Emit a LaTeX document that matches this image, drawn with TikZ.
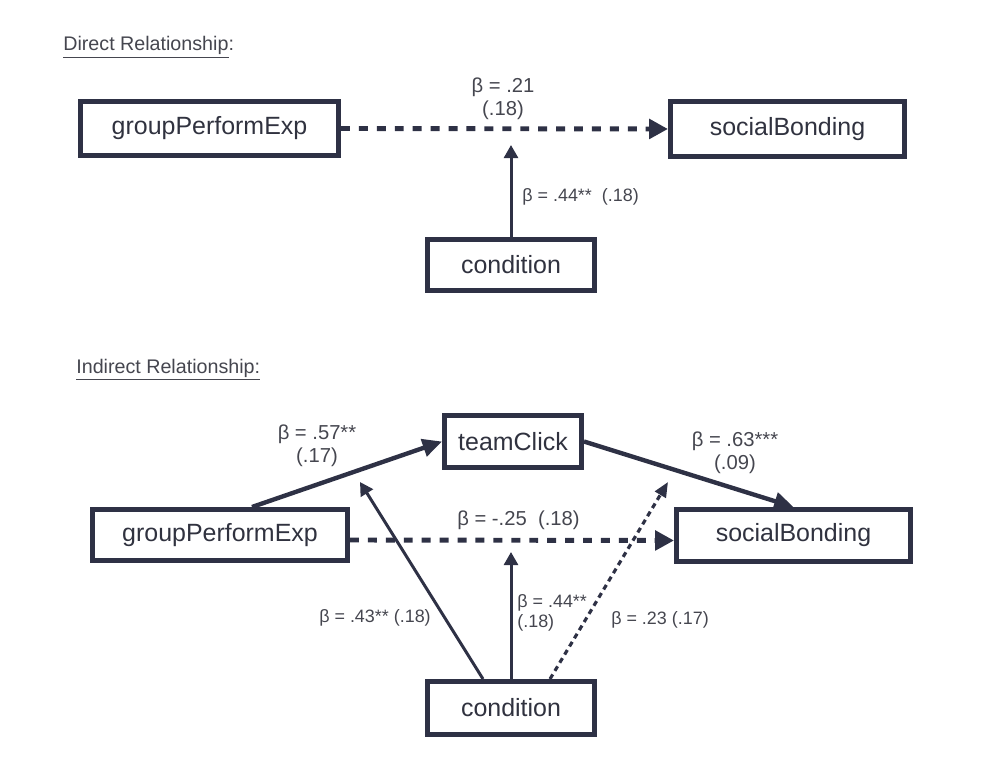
\documentclass[tikz,border=0pt]{standalone}
\usepackage{fontspec}
\setmainfont{Liberation Sans}
\usetikzlibrary{arrows.meta}
\definecolor{navy}{HTML}{2E3145}
\definecolor{boxtext}{HTML}{30323F}
\definecolor{lbltext}{HTML}{45464F}
\begin{document}
\begin{tikzpicture}[
  var/.style={draw=navy,line width=2.85pt,text=boxtext,inner sep=0pt,font=\fontsize{14.2}{17}\selectfont},
  coef/.style={text=lbltext,inner sep=0pt,align=center,font=\fontsize{11.5}{13}\selectfont},
  small/.style={text=lbltext,inner sep=0pt,font=\fontsize{10.2}{11.4}\selectfont},
  heading/.style={text=lbltext,inner sep=0pt,anchor=base west,font=\fontsize{11.2}{13}\selectfont},
  link/.style={draw=navy,line width=1.7pt,-{Triangle[length=7.5pt,width=8pt]}},
  strong/.style={draw=navy,line width=2.5pt,-{Triangle[length=11pt,width=10pt]}},
  nonsig/.style={draw=navy,line width=2.8pt,dash pattern=on 5.1pt off 5.1pt,-{Triangle[length=10.8pt,width=11pt]}},
  weak/.style={draw=navy,line width=1.8pt,dash pattern=on 3pt off 2.4pt,-{Triangle[length=8.5pt,width=7pt]}}
]
\useasboundingbox (0,0) rectangle (20.06,15.52);

\node[heading] (direct) at (1.26,14.5) {\underline{Direct Relationship}:};
\node[var,minimum width=5.16cm,minimum height=1.08cm] (gpe1) at (4.19,12.95) {groupPerformExp};
\node[var,minimum width=4.68cm,minimum height=1.1cm] (sb1) at (15.75,12.94) {socialBonding};
\node[var,minimum width=3.34cm,minimum height=1.02cm] (cond1) at (10.22,10.22) {condition};
\coordinate (top1) at (10.22,12.62);
\draw[nonsig] (gpe1.east) -- (sb1.west);
\draw[link] (cond1.north) -- (top1);
\node[coef] (b21) at (10.06,13.55) {β = .21\\(.18)};
\node[small,anchor=west] (b44a) at (10.44,11.58) {β = .44**\ \ (.18)};

\node[heading] (indirect) at (1.52,8.06) {\underline{Indirect Relationship:}};
\node[var,minimum width=2.74cm,minimum height=1.04cm] (tc) at (10.26,6.69) {teamClick};
\node[var,minimum width=5.1cm,minimum height=1.02cm] (gpe2) at (4.4,4.82) {groupPerformExp};
\node[var,minimum width=4.68cm,minimum height=1.04cm] (sb2) at (15.87,4.81) {socialBonding};
\node[var,minimum width=3.34cm,minimum height=1.06cm] (cond2) at (10.22,1.36) {condition};
\coordinate (ptA) at (7.2,5.88);
\coordinate (ptB) at (13.36,5.88);
\coordinate (ptC) at (10.22,4.48);
\draw[strong] ([xshift=6.4mm]gpe2.north) -- (tc.west);
\draw[strong] (tc.east) -- (sb2.north);
\draw[nonsig] ([yshift=-1mm]gpe2.east) -- ([yshift=-1mm]sb2.west);
\draw[link] ([xshift=-5.6mm]cond2.north) -- (ptA);
\draw[link] (cond2.north) -- (ptC);
\draw[weak] ([xshift=7.8mm]cond2.north) -- (ptB);
\node[coef] (b57) at (6.34,6.61) {β = .57**\\(.17)};
\node[coef] (b63) at (14.7,6.47) {β = .63***\\(.09)};
\node[coef,anchor=west] (b25) at (9.14,5.12) {β = -.25\ \ (.18)};
\node[small] (b43) at (7.5,3.16) {β = .43** (.18)};
\node[small,anchor=west,align=left] (b44b) at (10.34,3.26) {β = .44**\\(.18)};
\node[small] (b23) at (13.2,3.12) {β = .23 (.17)};
\end{tikzpicture}
\end{document}
